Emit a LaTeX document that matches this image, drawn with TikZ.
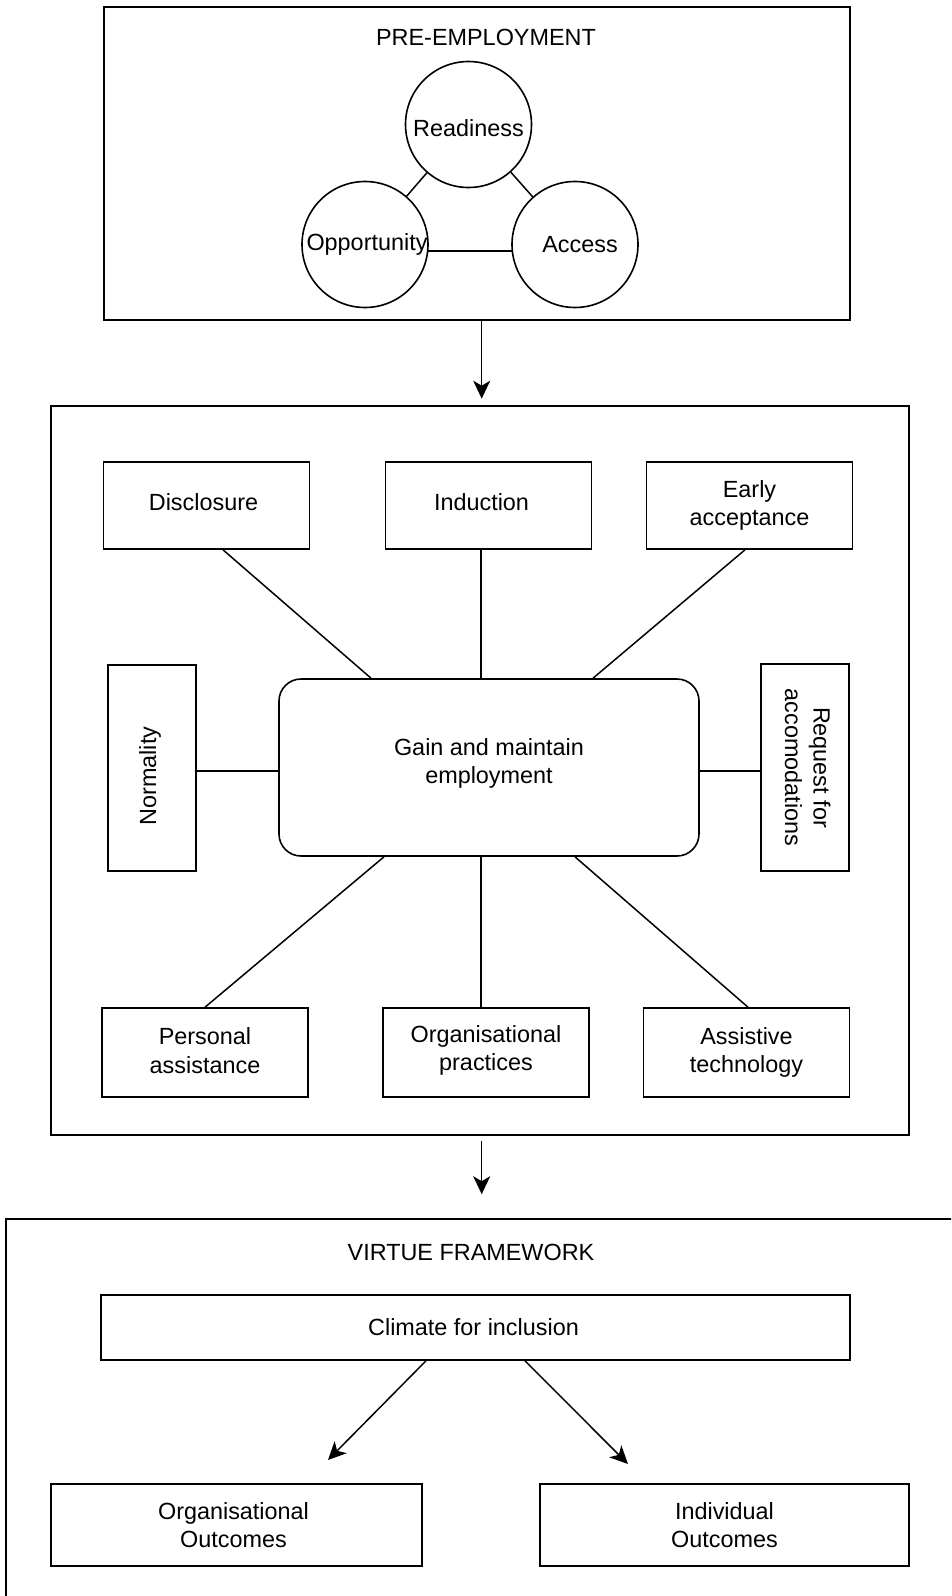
\documentclass[tikz,border=0pt]{standalone}
\usepackage{fontspec}
\setmainfont{Liberation Sans}
\usetikzlibrary{arrows.meta,calc}
\begin{document}
\begin{tikzpicture}[x=1pt,y=-1pt,
  every node/.style={font=\fontsize{23.4}{28.5}\selectfont, align=center, inner sep=0pt},
  frame/.style={draw, line width=1.6pt},
  box/.style={draw, line width=1.6pt, minimum width=206pt, minimum height=87pt},
  circ/.style={draw, circle, line width=1.6pt, minimum size=126pt},
  conn/.style={line width=1.5pt},
  arr/.style={line width=1.5pt, -{Stealth[length=18pt, width=17pt, inset=5pt]}}]
\useasboundingbox (0,0) rectangle (951,1596);
\clip (0,0) rectangle (951,1596);

% ---------- pre-employment stage ----------
\node[frame, minimum width=746pt, minimum height=313pt] (pre) at (477,163.5) {};
\node (pretitle) at (486,37) {PRE-EMPLOYMENT};
\node[circ, label={[yshift=-4pt]center:Readiness}] (read) at (468.5,124.5) {};
\node[circ, label={[xshift=2pt]center:Opportunity}] (opp) at (365,244.5) {};
\node[circ, label={[xshift=5pt]center:Access}] (acc) at (575,244.5) {};
\draw[conn] (read) -- (opp);
\draw[conn] (read) -- (acc);
\draw[conn] (opp.-6.5) -- (acc.186.5);

% ---------- employment stage ----------
\node[frame, minimum width=858pt, minimum height=729pt] (mid) at (480,770.5) {};
\draw[arr, shorten >=6.5pt] ([xshift=4.7pt]pre.south) -- ([xshift=1.7pt]mid.north);

\node[box, label={[xshift=-3pt,yshift=3pt]center:Disclosure}] (disc) at (206.5,505.5) {};
\node[box, label={[xshift=-7pt,yshift=3pt]center:Induction}] (ind) at (488.5,505.5) {};
\node[box] (early) at (749.5,505.5) {Early\\acceptance};
\node[draw, line width=1.6pt, minimum width=88pt, minimum height=206pt,
  label={[xshift=-2pt,yshift=-8pt]center:\rotatebox{90}{Normality}}] (norm) at (152,768) {};
\node[draw, line width=1.6pt, rounded corners=22pt, minimum width=420pt, minimum height=177pt,
  label={[yshift=4pt]center:Gain and maintain\\employment}] (gain) at (489,767.5) {};
\node[draw, line width=1.6pt, minimum width=88pt, minimum height=207pt] (req) at (805,767.5)
  {\rotatebox{-90}{\begin{tabular}{@{}c@{}}Request for\\accomodations\end{tabular}}};
\node[box, minimum height=89pt, label={[yshift=2pt]center:Personal\\assistance}] (pers) at (205,1052.5) {};
\node[box, minimum height=89pt, label={[yshift=2pt]center:Organisational\\practices}] (org) at (486,1052.5) {};
\node[box, minimum height=89pt] (ast) at (746.5,1052.5) {Assistive\\technology};

\draw[conn] ([xshift=16.5pt]disc.south) -- ([xshift=-118pt]gain.north);
\draw[conn] ([xshift=-7.5pt]ind.south) -- ([xshift=-8pt]gain.north);
\draw[conn] ([xshift=-4.5pt]early.south) -- ([xshift=104pt]gain.north);
\draw[conn] ([yshift=-3pt]norm.east) -- ([yshift=-3.5pt]gain.west);
\draw[conn] ([yshift=-3.5pt]gain.east) -- ([yshift=-3.5pt]req.west);
\draw[conn] ([xshift=-105pt]gain.south) -- (pers.north);
\draw[conn] ([xshift=-8pt]gain.south) -- ([xshift=-5pt]org.north);
\draw[conn] ([xshift=86pt]gain.south) -- ([xshift=1.5pt]ast.north);

% ---------- VIRTUE framework ----------
\node[frame, minimum width=960pt, minimum height=400pt] (virt) at (486,1419) {};
\draw[arr, shorten <=5pt, shorten >=24pt] ([xshift=1.7pt]mid.south) -- ([xshift=1.7pt]mid.south |- virt.north);
\node (virttitle) at (471,1252) {VIRTUE FRAMEWORK};
\node[draw, line width=1.6pt, minimum width=749pt, minimum height=65pt,
  label={[xshift=-2pt]center:Climate for inclusion}] (clim) at (475.5,1327.5) {};
\node[draw, line width=1.6pt, minimum width=371pt, minimum height=82pt,
  label={[xshift=-3pt]center:Organisational\\Outcomes}] (oo) at (236.5,1525) {};
\node[draw, line width=1.6pt, minimum width=369pt, minimum height=82pt] (io) at (724.5,1525)
  {Individual\\Outcomes};
\coordinate (tipo) at (328,1460);
\coordinate (tipi) at (628,1464);
\draw[arr] ([xshift=-49.5pt]clim.south) -- (tipo);
\draw[arr] ([xshift=49.5pt]clim.south) -- (tipi);
\end{tikzpicture}
\end{document}
